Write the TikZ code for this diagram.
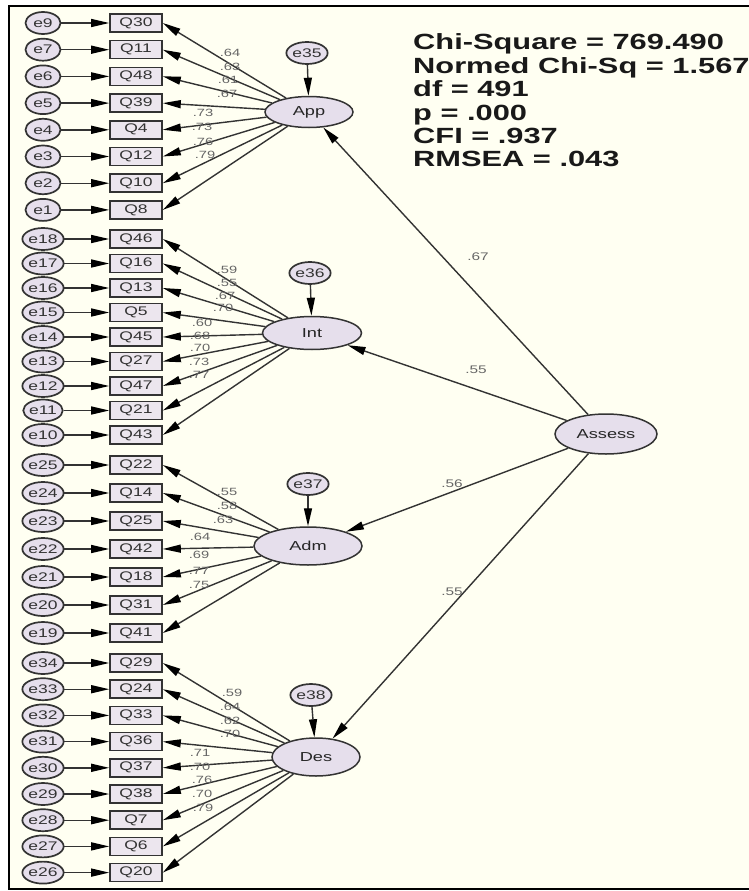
\documentclass[tikz,border=0pt]{standalone}
\usepackage{fontspec}
\setmainfont{Liberation Sans}
\newfontfamily\wide[FakeStretch=1.4]{Liberation Sans}
\usetikzlibrary{arrows.meta,shapes.geometric}
\definecolor{bgc}{HTML}{FFFFF2}
\definecolor{latfill}{HTML}{E6DFEC}
\definecolor{boxfill}{HTML}{ECE6EE}
\definecolor{linec}{HTML}{333333}
\begin{document}
\begin{tikzpicture}[x=1pt,y=-1pt,
 errv/.style={ellipse, draw=linec, line width=1.7pt, fill=latfill, minimum width=35pt, minimum height=22pt, inner sep=0pt, font=\wide\fontsize{12.5}{12.5}\selectfont, text=black!80},
 obs/.style={rectangle, draw=linec, line width=1.6pt, fill=boxfill, minimum width=52pt, minimum height=18pt, inner sep=0pt, font=\wide\fontsize{12.5}{12.5}\selectfont, text=black!80},
 lat/.style={ellipse, draw=linec, line width=1.5pt, fill=latfill, inner sep=0pt, font=\wide\fontsize{13}{13}\selectfont, text=black!85},
 arr/.style={draw=linec, line width=1.4pt, -{Triangle[length=18pt,width=8pt,color=black]}},
 ld/.style={font=\wide\fontsize{10.5}{10.5}\selectfont, text=black!60, inner sep=0pt},
 sl/.style={font=\wide\fontsize{11}{11}\selectfont, text=black!60, inner sep=0pt},
 stat/.style={anchor=base west, inner sep=0pt, font=\wide\bfseries\fontsize{22}{23}\selectfont, text=black!90},
]
\useasboundingbox (0,0) rectangle (749,891);
\fill[white] (0,0) rectangle (749,891);
\fill[bgc] (9,6) rectangle (760,889);
\draw[line width=2pt] (760,6) -- (9,6) -- (9,889) -- (760,889);

% latent variables
\node[lat, minimum width=88pt, minimum height=31pt] (App) at (309,112) {App};
\node[lat, minimum width=99pt, minimum height=33pt] (Int) at (312,333) {Int};
\node[lat, minimum width=108pt, minimum height=38pt] (Adm) at (308,546) {Adm};
\node[lat, minimum width=88pt, minimum height=38pt] (Des) at (316,757) {Des};
\node[lat, minimum width=102pt, minimum height=40pt] (Assess) at (606,434) {Assess};

\node[errv] (e35) at (307,53) {e35};
\node[errv] (e36) at (310,273) {e36};
\node[errv] (e37) at (308,484) {e37};
\node[errv] (e38) at (311,695) {e38};
\draw[arr] (e35) -- (App);
\draw[arr] (e36) -- (Int);
\draw[arr] (e37) -- (Adm);
\draw[arr] (e38) -- (Des);

% App group
\foreach \e/\q/\l/\lx/\ly [count=\i from 0] in {e9/Q30/.64/230/53, e7/Q11/.63/230/67, e6/Q48/.61/228/80, e5/Q39/.67/227/94, e4/Q4/.73/203/113, e3/Q12/.73/202/127, e2/Q10/.76/203/142, e1/Q8/.79/205/155} {
  \pgfmathsetmacro\yy{23+26.7*\i}
  \node[errv] (\e) at (43,\yy) {\e};
  \node[obs] (\q) at (136,\yy) {\q};
  \draw[arr] (\e) -- (\q);
  \draw[arr] (App) -- (\q.east);
  \node[ld] at (\lx,\ly) {\l};
}
% Int group
\foreach \e/\q/\l/\lx/\ly [count=\i from 0] in {e18/Q46/.59/227/270, e17/Q16/.55/227/283, e16/Q13/.67/225/296, e15/Q5/.70/223/308, e14/Q45/.60/202/323, e13/Q27/.68/200/336, e12/Q47/.70/200/348, e11/Q21/.73/199/362, e10/Q43/.77/199/375} {
  \pgfmathsetmacro\yy{239+24.5*\i}
  \node[errv] (\e) at (43,\yy) {\e};
  \node[obs] (\q) at (136,\yy) {\q};
  \draw[arr] (\e) -- (\q);
  \draw[arr] (Int) -- (\q.east);
  \node[ld] at (\lx,\ly) {\l};
}
% Adm group
\foreach \e/\q/\l/\lx/\ly [count=\i from 0] in {e25/Q22/.55/227/492, e24/Q14/.58/227/506, e23/Q25/.63/223/520, e22/Q42/.64/200/537, e21/Q18/.69/199/555, e20/Q31/.77/199/571, e19/Q41/.75/199/585} {
  \pgfmathsetmacro\yy{465+28*\i}
  \node[errv] (\e) at (43,\yy) {\e};
  \node[obs] (\q) at (136,\yy) {\q};
  \draw[arr] (\e) -- (\q);
  \draw[arr] (Adm) -- (\q.east);
  \node[ld] at (\lx,\ly) {\l};
}
% Des group
\foreach \e/\q/\l/\lx/\ly [count=\i from 0] in {e34/Q29/.59/232/693, e33/Q24/.64/230/707, e32/Q33/.62/230/721, e31/Q36/.70/230/734, e30/Q37/.71/200/753, e29/Q38/.70/200/767, e28/Q7/.76/202/780, e27/Q6/.70/202/794, e26/Q20/.79/203/808} {
  \pgfmathsetmacro\yy{663+26.2*\i}
  \node[errv] (\e) at (43,\yy) {\e};
  \node[obs] (\q) at (136,\yy) {\q};
  \draw[arr] (\e) -- (\q);
  \draw[arr] (Des) -- (\q.east);
  \node[ld] at (\lx,\ly) {\l};
}

% structural paths
\draw[arr] (Assess) -- (App);
\draw[arr] (Assess) -- (Int);
\draw[arr] (Assess) -- (Adm);
\draw[arr] (Assess) -- (Des);
\node[sl] at (478,257) {.67};
\node[sl] at (476,370) {.55};
\node[sl] at (452,484) {.56};
\node[sl] at (452,592) {.55};

% fit statistics
\node[stat] (s1) at (413,50) {Chi-Square = 769.490};
\node[stat] (s2) at (413,73.3) {Normed Chi-Sq = 1.567};
\node[stat] (s3) at (413,96.6) {df = 491};
\node[stat] (s4) at (413,120) {p = .000};
\node[stat] (s5) at (413,143.3) {CFI = .937};
\node[stat] (s6) at (413,166.6) {RMSEA = .043};
\end{tikzpicture}
\end{document}
